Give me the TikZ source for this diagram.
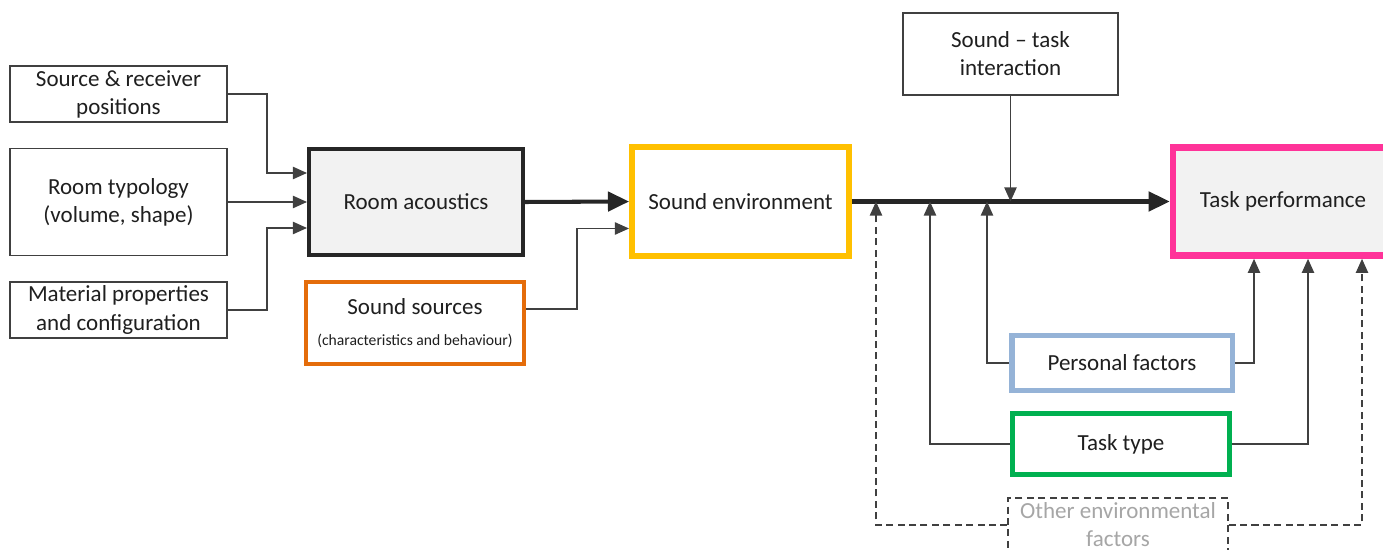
\documentclass[tikz,border=0pt]{standalone}
\usepackage{fontspec}
\setmainfont{Carlito}
\usetikzlibrary{arrows.meta,calc}

\definecolor{envyellow}{HTML}{FFC000}
\definecolor{srcorange}{HTML}{E46C0A}
\definecolor{perfpink}{HTML}{FF3399}
\definecolor{persblue}{HTML}{95B3D7}
\definecolor{typegreen}{HTML}{00B050}
\definecolor{boxgray}{HTML}{F2F2F2}
\definecolor{linegray}{HTML}{404040}

\begin{document}
\begin{tikzpicture}[
  x=0.02cm, y=-0.02cm,
  font=\fontsize{13.1}{16}\selectfont,
  box/.style={draw=linegray, line width=0.75pt, align=center, inner sep=0pt, fill=white, text=black!88},
  bigbox/.style={box, line width=#1},
  arrow/.style={-{Triangle[length=8pt, width=7pt]}, line width=0.75pt, draw=linegray},
  mainarrow/.style={-{Triangle[length=12pt, width=11pt]}, line width=2.3pt, draw=black!85},
  dasharrow/.style={arrow, dash pattern=on 4pt off 2.5pt}
]
\useasboundingbox (0,0) rectangle (1383,550);

% inputs to room acoustics
\node[box, minimum width=4.34cm, minimum height=1.12cm] (srcpos) at (118.5,94)
  {Source \& receiver\\positions};
\node[box, minimum width=4.34cm, minimum height=2.14cm] (typology) at (118.5,202)
  {Room typology\\(volume, shape)};
\node[box, minimum width=4.34cm, minimum height=1.12cm] (material) at (118.5,310)
  {Material properties\\and configuration};

\node[bigbox=2.3pt, draw=black!85, fill=boxgray, minimum width=4.28cm, minimum height=2.12cm] (roomac) at (416,202)
  {Room acoustics};
\node[bigbox=2.3pt, draw=srcorange, minimum width=4.36cm, minimum height=1.64cm] (sources) at (415,323)
  {Sound sources\\[2pt]{\fontsize{8.9}{10}\selectfont (characteristics and behaviour)}};

\node[bigbox=3.4pt, draw=envyellow, minimum width=4.34cm, minimum height=2.18cm] (soundenv) at (740.5,201.5)
  {Sound environment};
\node[box, minimum width=4.3cm, minimum height=1.64cm] (interact) at (1010.5,54)
  {Sound -- task\\interaction};
\node[bigbox=3.8pt, draw=perfpink, fill=boxgray, minimum width=4.4cm, minimum height=2.16cm] (taskperf) at (1283,201.5)
  {Task performance};

% moderating factors
\node[bigbox=3.4pt, draw=persblue, minimum width=4.42cm, minimum height=1.1cm] (personal) at (1122,363)
  {Personal factors};
\node[bigbox=2.8pt, draw=typegreen, minimum width=4.34cm, minimum height=1.22cm] (tasktype) at (1121,444)
  {Task type};
\node[box, dashed, dash pattern=on 4pt off 2.5pt, text=black!35, minimum width=4.4cm, minimum height=1.08cm] (otherenv) at (1118,525)
  {Other environmental\\factors};

% junctions on the main line
\coordinate (jo) at (876,201.5);
\coordinate (jt) at (930,201.5);
\coordinate (jp) at (987,201.5);

\draw[arrow] (srcpos.east) -| ($(roomac.west)+(-40,-29)$) -- ($(roomac.west)+(0,-29)$);
\draw[arrow] (typology.east) -- (roomac.west);
\draw[arrow] (material.east) -| ($(roomac.west)+(-40,26)$) -- ($(roomac.west)+(0,26)$);

\draw[mainarrow] (roomac.east) -- (soundenv.west);
\draw[arrow] ($(sources.east)+(0,-14)$) -| ($(soundenv.west)+(-52,27)$) -- ($(soundenv.west)+(0,27)$);

\draw[mainarrow] (soundenv.east) -- (taskperf.west);
\draw[arrow] (interact.south) -- (interact.south |- soundenv.east);

\draw[arrow] (personal.west) -| (jp);
\draw[arrow] (tasktype.west) -| (jt);
\draw[dasharrow] (otherenv.west) -| (jo);

\draw[arrow] (personal.east) -| ($(taskperf.south)+(-29,0)$);
\draw[arrow] (tasktype.east) -| ($(taskperf.south)+(25,0)$);
\draw[dasharrow] (otherenv.east) -| ($(taskperf.south)+(79,0)$);

\end{tikzpicture}
\end{document}
